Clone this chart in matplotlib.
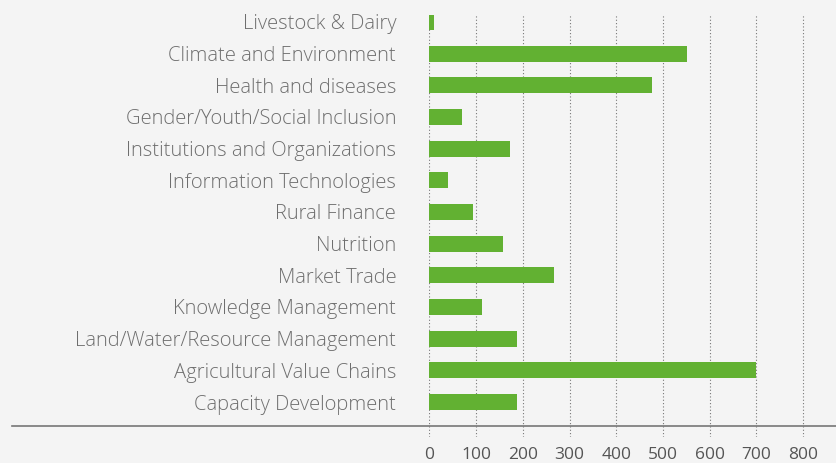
import matplotlib.pyplot as plt
from matplotlib.lines import Line2D

topics = ["Capacity Development", "Agricultural Value Chains", "Land/Water/Resource Management",
          "Knowledge Management", "Market Trade", "Nutrition", "Rural Finance",
          "Information Technologies", "Institutions and Organizations",
          "Gender/Youth/Social Inclusion", "Health and diseases",
          "Climate and Environment", "Livestock & Dairy"]
counts = [187, 700, 187, 112, 266, 157, 93, 40, 172, 70, 476, 551, 10]
xticks = [0, 100, 200, 300, 400, 500, 600, 700, 800]

W, H = 837, 463
fig = plt.figure(figsize=(W / 100, H / 100), dpi=100)
fig.patch.set_facecolor("#f4f4f4")

# axes box in pixels (from top): left 429.5, top 15, bottom 437
left, top, bottom = 429.5, 15, 437
ax = fig.add_axes([left / W, 1 - bottom / H, (W - left) / W, (bottom - top) / H])
ax.set_facecolor("#f4f4f4")

ax.barh(range(len(topics)), counts, height=0.5, color="#62b132", zorder=3)

ax.set_xlim(0, 800 * (W - left) / (803 - left))
ax.set_ylim(-1.105, 12.22)
ax.set_xticks(xticks)
ax.set_yticks(range(len(topics)))
ax.set_yticklabels(topics)

for s in ax.spines.values():
    s.set_visible(False)

ax.grid(axis="x", color="#777777", linestyle=(0, (1, 2)), linewidth=0.8, zorder=0)
ax.tick_params(axis="y", length=0, pad=24, labelsize=14.5, labelcolor="#6e6e6e")
ax.tick_params(axis="x", length=0, pad=7, labelsize=12.5, labelcolor="#555555")
for lab in ax.get_xticklabels() + ax.get_yticklabels():
    lab.set_fontfamily("Open Sans")
for lab in ax.get_yticklabels():
    lab.set_fontweight("light")

# baseline running across the figure
fig.add_artist(Line2D([12 / W, 1], [1 - 426 / H, 1 - 426 / H], color="#777777", linewidth=1.2))

fig.savefig("out.png", dpi=100, facecolor=fig.get_facecolor())
